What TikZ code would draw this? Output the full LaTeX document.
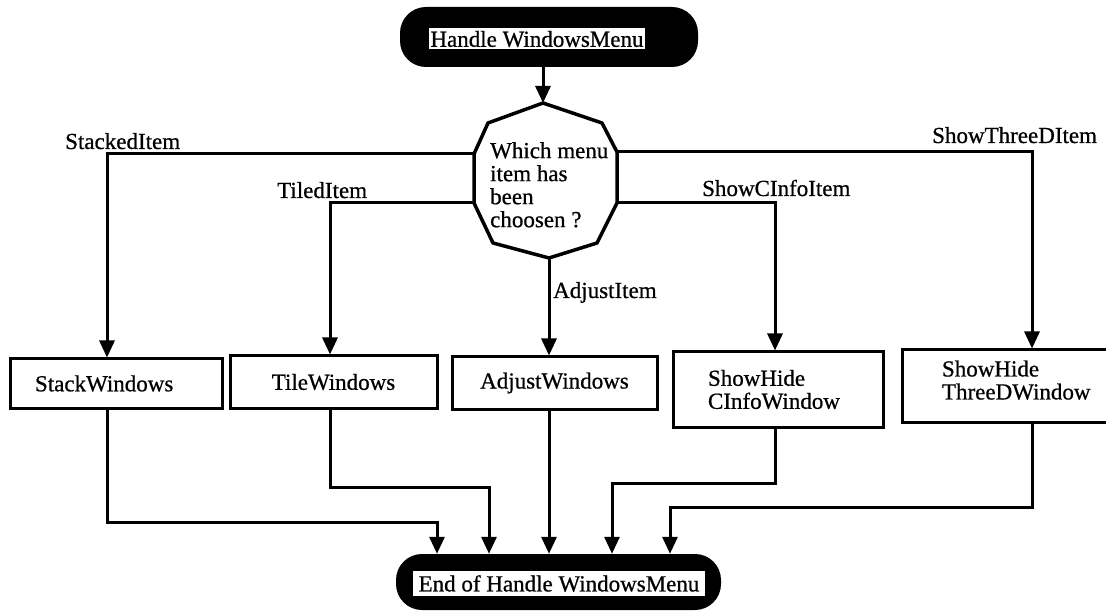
\documentclass[tikz,border=0pt]{standalone}
\usepackage{fontspec}
\setmainfont{Liberation Serif}
\usetikzlibrary{arrows.meta}
\begin{document}
\begin{tikzpicture}[x=1pt,y=-1pt,
  every node/.style={font=\fontsize{23}{23}\selectfont\addfontfeature{FakeBold=0.7}},
  flow/.style={line width=3pt,-{Triangle[length=17pt,width=15pt]}},
  procbox/.style={draw,line width=3pt,inner ysep=0pt},
  terminal/.style={fill=black,rounded corners=26pt,inner sep=0pt},
  termtext/.style={fill=white,inner sep=0pt},
  choice/.style={line width=3.5pt,line join=round},
  caption/.style={anchor=base west,inner sep=0pt}
]
\useasboundingbox (0,0) rectangle (1106,612);

% start and end terminals
\node[terminal,minimum width=298pt,minimum height=60pt] (start) at (549,37) {};
\node[termtext,minimum width=216pt,minimum height=21pt] (starttext) at (537,39) {Handle WindowsMenu};
\node[terminal,minimum width=325pt,minimum height=56pt] (finish) at (558.5,582) {};
\node[termtext,minimum width=292pt,minimum height=25pt] (finishtext) at (559,583.5) {End of Handle WindowsMenu};

% decision polygon
\coordinate (pT)  at (543,103);
\coordinate (pUL) at (488,123);
\coordinate (pL1) at (474,154);
\coordinate (pL2) at (474,203);
\coordinate (pLL) at (493,243);
\coordinate (pB)  at (549,258);
\coordinate (pLR) at (597,243);
\coordinate (pR2) at (617,203);
\coordinate (pR1) at (617,152);
\coordinate (pUR) at (602,123);
\draw[choice] (pT) -- (pUL) -- (pL1) -- (pL2) -- (pLL) -- (pB) -- (pLR) -- (pR2) -- (pR1) -- (pUR) -- cycle;
\node[anchor=north west,align=left,inner sep=0pt] (query) at (490,142) {Which menu\\item has\\been\\choosen ?};

% action boxes
\node[procbox,minimum height=49pt,text width=162pt,inner xsep=25pt,align=left] (stack) at (116,383.5) {StackWindows};
\node[procbox,minimum width=207pt,minimum height=52pt,align=center] (tile) at (333.5,382) {TileWindows};
\node[procbox,minimum width=205pt,minimum height=52pt,align=center] (adjust) at (554.5,383) {AdjustWindows};
\node[procbox,minimum height=75pt,text width=140pt,inner xsep=35pt,align=left] (cinfo) at (778,389.5) {ShowHide\\CInfoWindow};
\node[procbox,minimum height=72pt,text width=165pt,inner xsep=40pt,align=left] (threed) at (1024.5,386) {ShowHide\\ThreeDWindow\rule[-12pt]{0pt}{12pt}};

% branches out of the decision
\draw[flow] (start.south -| pT) -- (pT);
\draw[flow] (pL1) -| ([xshift=-9pt]stack.north);
\draw[flow] (pL2) -| ([xshift=-3.5pt]tile.north);
\draw[flow] (pB) -- (pB |- adjust.north);
\draw[flow] (pR2) -| ([xshift=-3pt]cinfo.north);
\draw[flow] (pR1) -| ([xshift=7.5pt]threed.north);

% branch labels
\node[caption] (lstacked) at (65,149) {StackedItem};
\node[caption] (ltiled) at (277,198) {TiledItem};
\node[caption] (ladjust) at (553,298) {AdjustItem};
\node[caption] (lcinfo) at (702,196) {ShowCInfoItem};
\node[caption] (lthreed) at (932,143) {ShowThreeDItem};

% merging into the end terminal
\coordinate (j1) at (437,522);
\coordinate (j2) at (489,487);
\coordinate (j3) at (612,483);
\coordinate (j4) at (670,507);
\draw[flow] ([xshift=-9pt]stack.south) |- (j1) -- (j1 |- finish.north);
\draw[flow] ([xshift=-3.5pt]tile.south) |- (j2) -- (j2 |- finish.north);
\draw[flow] (pB |- adjust.south) -- (pB |- finish.north);
\draw[flow] ([xshift=-3pt]cinfo.south) |- (j3) -- (j3 |- finish.north);
\draw[flow] ([xshift=7.5pt]threed.south) |- (j4) -- (j4 |- finish.north);
\end{tikzpicture}
\end{document}
